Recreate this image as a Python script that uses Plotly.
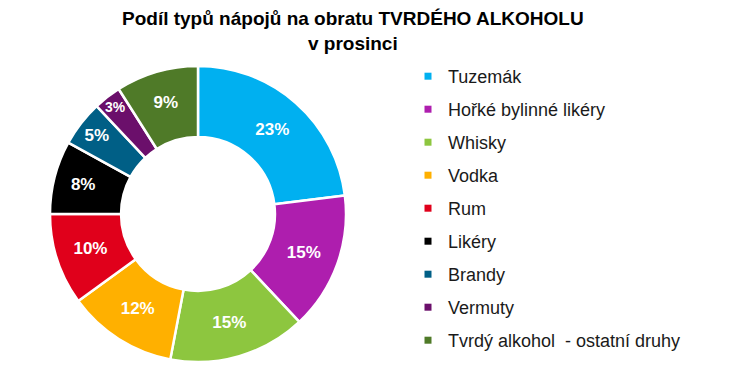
import plotly.graph_objects as go

title_text = "Podíl typů nápojů na obratu TVRDÉHO ALKOHOLU<br>v prosinci"
categories = ["Tuzemák", "Hořké bylinné likéry", "Whisky", "Vodka", "Rum",
              "Likéry", "Brandy", "Vermuty", "Tvrdý alkohol  - ostatní druhy"]
shares = [23, 15, 15, 12, 10, 8, 5, 3, 9]
colors = ["#00B0F0", "#AE1EAE", "#8DC63F", "#FFB000", "#E0001B",
          "#000000", "#005F86", "#6B0F6B", "#4F7A28"]

W, H = 729, 392
cx, cy, r = 190, 206, 148

fig = go.Figure()
fig.add_trace(go.Pie(
    labels=categories, values=shares, sort=False, direction="clockwise",
    hole=0.52, showlegend=False,
    marker=dict(colors=colors, line=dict(color="white", width=2.5)),
    texttemplate="%{value}%", textposition="inside",
    insidetextorientation="horizontal",
    textfont=dict(family="Liberation Sans, Arial", size=17, color="white", weight="bold"),
    domain=dict(x=[(cx - r) / W, (cx + r) / W], y=[1 - (cy + r) / H, 1 - (cy - r) / H]),
))

for cat, col in zip(categories, colors):
    fig.add_trace(go.Scatter(
        x=[None], y=[None], mode="markers", name=cat, legendgroup=cat,
        marker=dict(symbol="square", size=7, color=col),
    ))

fig.add_annotation(
    text="<b>" + title_text + "</b>", xref="paper", yref="paper",
    x=345 / W, xanchor="center", y=1 + 2 / H, yanchor="top", showarrow=False,
    font=dict(family="Liberation Sans, Arial", size=19, color="black"),
)

fig.update_layout(
    width=W, height=H,
    margin=dict(l=0, r=0, t=0, b=0),
    paper_bgcolor="white", plot_bgcolor="white",
    xaxis=dict(visible=False), yaxis=dict(visible=False),
    legend=dict(x=(440 - 40) / W, xanchor="left", y=1 - 50 / H, yanchor="top",
                font=dict(family="Liberation Sans, Arial", size=18, color="#1a1a1a"),
                tracegroupgap=6.6, bgcolor="rgba(0,0,0,0)"),
)

fig.write_html("out.html")
